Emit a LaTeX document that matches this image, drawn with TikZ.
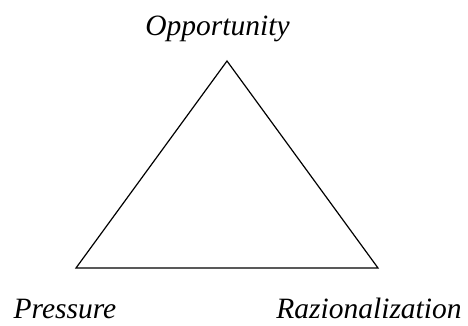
\documentclass[tikz,border=0pt]{standalone}
\usepackage{fontspec}
\setmainfont{Liberation Serif}
\usepackage{tikz}
\usetikzlibrary{positioning,calc}

\tikzset{
    corner/.style={font=\fontsize{29.5}{34}\selectfont\itshape, inner sep=0pt, anchor=base},
}

\begin{document}
\begin{tikzpicture}[x=1pt, y=1pt]
    \useasboundingbox (0,0) rectangle (468,325);
    \coordinate (top) at (227,264);
    \coordinate (left) at (76,57);
    \coordinate (right) at (378,57);
    \draw[line width=1.2pt, line join=miter] (top) -- (left) -- (right) -- cycle;
    \node[corner] (opp) at (217.5,290) {Opportunity};
    \node[corner] (pre) at (65,6.5) {Pressure};
    \node[corner] (raz) at (369,6.5) {Razionalization};
\end{tikzpicture}
\end{document}
